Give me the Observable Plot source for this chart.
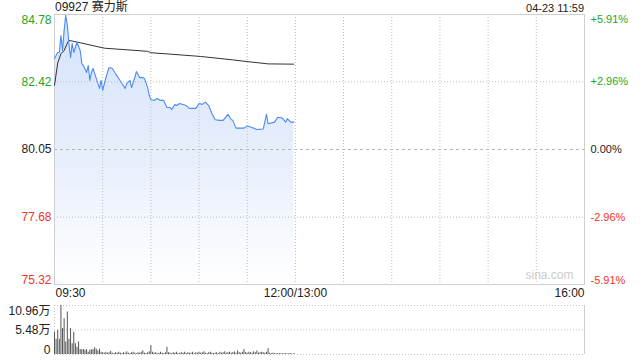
<!DOCTYPE html>
<html>
<head>
<meta charset="utf-8">
<script src="https://cdn.jsdelivr.net/npm/d3@7"></script>
<script src="https://cdn.jsdelivr.net/npm/@observablehq/plot@0.6"></script>
<style>
  html, body { margin: 0; padding: 0; background: #fff; }
  #wrap { position: relative; width: 640px; height: 360px; overflow: hidden;
    font-family: "Liberation Sans", Arial, "Noto Sans CJK SC", sans-serif; }
  #title { position: absolute; left: 55px; top: 0px; font-size: 12px; color: #222; line-height: 14px; }
  #stamp { position: absolute; right: 56px; top: 1px; font-size: 11px; color: #222; line-height: 14px; }
  #main { position: absolute; left: 0; top: 0; }
  #vol { position: absolute; left: 0; top: 300px; }
</style>
</head>
<body>
<div id="wrap">
  <div id="main"></div>
  <div id="vol"></div>
  <div id="title"></div>
  <div id="stamp"></div>
</div>
<script>
// ---------- data ----------
const stockTitle = "09927 赛力斯";
const stampText = "04-23 11:59";
const prevClose = 80.05;
const priceTicks = [75.32, 77.68, 80.05, 82.42, 84.78];
const pctLabels = ["-5.91%", "-2.96%", "0.00%", "+2.96%", "+5.91%"];
const xTickLabels = ["09:30", "12:00/13:00", "16:00"];
const xTickTimes = ["09:30", "12:00", "16:00"];
const gridTimes = ["10:00","10:30","11:00","11:30","12:00","13:30","14:00","14:30","15:00","15:30"];

const priceTimes = ["09:30","09:32","09:33","09:34","09:35","09:36","09:37","09:38","09:39","09:40",
  "09:41","09:42","09:44","09:46","09:47","09:48","09:50","09:51","09:52","09:53",
  "09:54","09:56","09:58","09:59","10:00","10:02","10:04","10:06","10:08","10:10",
  "10:12","10:14","10:15","10:17","10:18","10:20","10:21","10:23","10:25","10:26",
  "10:28","10:29","10:30","10:32","10:34","10:36","10:38","10:40","10:42","10:43",
  "10:45","10:46","10:48","10:52","10:54","10:56","10:58","11:00","11:02","11:04",
  "11:06","11:08","11:10","11:13","11:15","11:18","11:20","11:21","11:23","11:26",
  "11:28","11:30","11:33","11:36","11:40","11:42","11:43","11:47","11:49","11:51",
  "11:52","11:54","11:55","11:57","11:59"];
const prices = [83.24,83.45,83.45,84.04,83.52,84.22,84.75,84.40,83.76,83.27,
  83.76,83.45,83.80,83.52,83.06,82.99,82.75,82.99,82.47,82.75,
  82.89,82.54,82.19,82.47,82.12,82.57,82.92,82.89,82.71,82.54,
  82.36,82.19,82.36,82.47,82.22,82.57,82.78,82.57,82.57,82.54,
  82.22,81.94,81.80,81.77,81.84,81.77,81.77,81.52,81.52,81.45,
  81.63,81.59,81.66,81.59,81.49,81.49,81.49,81.66,81.63,81.71,
  81.59,81.31,81.09,81.07,81.07,81.28,81.10,81.07,80.80,80.80,
  80.80,80.87,80.82,80.75,80.77,81.28,80.95,81.01,81.18,81.16,
  81.14,81.01,81.13,81.01,81.01];

const avgTimes = ["09:30","09:32","09:34","09:36","09:38","09:39","09:41","09:46","10:01","10:28",
  "10:30","10:40","11:01","11:21","11:30","11:43","11:59"];
const avgPrices = [82.30,83.08,83.40,83.52,83.78,83.87,83.85,83.79,83.60,83.49,
  83.44,83.40,83.31,83.19,83.13,83.05,83.04];

const volStart = "09:30";
const volumes = [5.0,3.4,5.4,3.4,10.96,5.8,8.0,2.8,9.5,3.4,
  5.8,2.4,5.0,2.4,1.6,2.8,1.1,1.1,1.1,0.9,
  1.1,0.5,1.0,1.0,1.1,1.5,1.2,0.8,1.2,0.5,
  0.4,0.3,0.5,0.3,0.4,0.7,0.3,0.2,0.4,0.3,
  0.5,0.3,0.2,0.4,0.3,0.6,0.3,0.2,0.4,0.5,
  0.3,0.2,0.4,0.3,0.5,0.8,0.3,0.2,0.4,0.6,
  2.0,0.5,0.3,0.4,0.2,0.3,0.5,0.3,0.2,0.4,
  1.6,0.4,0.3,0.2,0.4,0.3,0.5,0.2,0.3,0.4,
  0.3,0.5,0.2,0.4,0.3,0.3,0.5,0.2,0.4,0.3,
  0.5,0.3,0.4,0.6,0.3,0.2,0.4,0.5,0.3,0.2,
  0.3,0.4,0.2,0.5,0.3,0.4,0.6,0.3,0.4,0.5,
  0.3,0.4,0.6,0.3,0.8,0.4,0.3,0.5,1.1,0.4,
  0.3,0.5,0.4,0.3,0.6,0.4,0.8,0.3,0.4,0.5,
  0.4,0.3,0.5,1.3,0.3,0.2,0.3,0.2,0.2,0.2,
  0.2,0.2,0.1,0.2,0.2,0.1,0.2,0.2,0.1,0.2];
const volTicks = [0, 5.48, 10.96];
const volLabels = ["0", "5.48万", "10.96万"];

// ---------- helpers ----------
function sessionMinute(t) {
  const [h, m] = t.split(":").map(Number);
  const v = h * 60 + m;
  return v <= 720 ? v - 570 : v - 780 + 150;
}
const FONT = '"Liberation Sans", Arial, "Noto Sans CJK SC", sans-serif';
const GREEN = "#1fa51f", RED = "#ee3526", DARK = "#222";
const tickColor = v => v > prevClose ? GREEN : v < prevClose ? RED : DARK;

const priceData = priceTimes.map((t, i) => ({m: sessionMinute(t), p: prices[i]}));
const avgData = avgTimes.map((t, i) => ({m: sessionMinute(t), p: avgPrices[i]}));
const volData = volumes.map((v, i) => ({m: sessionMinute(volStart) + i, v}));
const tickRows = priceTicks.map((v, i) => ({v, pct: pctLabels[i]}));
const xTickRows = xTickTimes.map((t, i) => ({m: sessionMinute(t), label: xTickLabels[i]}));

document.getElementById("title").textContent = stockTitle;
document.getElementById("stamp").textContent = stampText;

const lo = priceTicks[0], hi = priceTicks[priceTicks.length - 1];
const xDomain = [0, 330];

// ---------- main price chart ----------
const main = Plot.plot({
  width: 640, height: 300,
  marginTop: 14, marginBottom: 16, marginLeft: 54, marginRight: 56,
  x: {domain: xDomain, axis: null},
  y: {domain: [lo, hi], axis: null},
  style: {fontFamily: FONT, fontSize: "11px", background: "transparent", overflow: "visible"},
  marks: [
    Plot.areaY(priceData, {x: "m", y1: lo, y2: "p", fill: "url(#pgrad)"}),
    Plot.ruleY(priceTicks.filter(v => v !== prevClose && v !== lo && v !== hi), {stroke: "#bdbdbd", strokeDasharray: "1,2"}),
    Plot.ruleY([prevClose], {stroke: "#b5b5b5", strokeDasharray: "3,3"}),
    Plot.ruleX(gridTimes.map(sessionMinute), {stroke: "#bdbdbd", strokeDasharray: "1,2"}),
    Plot.frame({stroke: "#cfcfcf"}),
    Plot.line(avgData, {x: "m", y: "p", stroke: "#333", strokeWidth: 1}),
    Plot.line(priceData, {x: "m", y: "p", stroke: "#4d8cf2", strokeWidth: 1.1}),
    // left price labels
    Plot.text(tickRows.filter(d => d.v === hi), {y: "v", text: d => d.v.toFixed(2), frameAnchor: "left", textAnchor: "end", lineAnchor: "top", dx: -3, dy: 1, fill: d => tickColor(d.v), fontSize: 12}),
    Plot.text(tickRows.filter(d => d.v !== hi && d.v !== lo), {y: "v", text: d => d.v.toFixed(2), frameAnchor: "left", textAnchor: "end", lineAnchor: "middle", dx: -3, fill: d => tickColor(d.v), fontSize: 12}),
    Plot.text(tickRows.filter(d => d.v === lo), {y: "v", text: d => d.v.toFixed(2), frameAnchor: "left", textAnchor: "end", lineAnchor: "bottom", dx: -3, dy: -1, fill: d => tickColor(d.v), fontSize: 12}),
    // right pct labels
    Plot.text(tickRows.filter(d => d.v === hi), {y: "v", text: "pct", frameAnchor: "right", textAnchor: "start", lineAnchor: "top", dx: 6, dy: 1, fill: d => tickColor(d.v), fontSize: 11}),
    Plot.text(tickRows.filter(d => d.v !== hi && d.v !== lo), {y: "v", text: "pct", frameAnchor: "right", textAnchor: "start", lineAnchor: "middle", dx: 6, fill: d => tickColor(d.v), fontSize: 11}),
    Plot.text(tickRows.filter(d => d.v === lo), {y: "v", text: "pct", frameAnchor: "right", textAnchor: "start", lineAnchor: "bottom", dx: 6, dy: -1, fill: d => tickColor(d.v), fontSize: 11}),
    // x labels
    Plot.text([xTickRows[0]], {x: "m", text: "label", frameAnchor: "bottom", textAnchor: "start", dy: 12, dx: 1, fill: DARK, fontSize: 12}),
    Plot.text([xTickRows[1]], {x: "m", text: "label", frameAnchor: "bottom", textAnchor: "middle", dy: 12, fill: DARK, fontSize: 12}),
    Plot.text([xTickRows[2]], {x: "m", text: "label", frameAnchor: "bottom", textAnchor: "end", dy: 12, fill: DARK, fontSize: 12}),
    // watermark
    Plot.text(["sina.com"], {frameAnchor: "bottom-right", textAnchor: "end", dx: -11, dy: -6, fill: "#cccccc", fontSize: 12})
  ]
});
const defs = d3.select(main).insert("defs", ":first-child");
const grad = defs.append("linearGradient").attr("id", "pgrad")
  .attr("gradientUnits", "userSpaceOnUse").attr("x1", 0).attr("x2", 0).attr("y1", 14).attr("y2", 284);
grad.append("stop").attr("offset", "0%").attr("stop-color", "#d5e3fa");
grad.append("stop").attr("offset", "55%").attr("stop-color", "#e8effc");
grad.append("stop").attr("offset", "100%").attr("stop-color", "#ffffff");
document.getElementById("main").appendChild(main);

// ---------- volume chart ----------
const volRows = volTicks.map((v, i) => ({v, label: volLabels[i]}));
const vol = Plot.plot({
  width: 640, height: 60,
  marginTop: 5, marginBottom: 6, marginLeft: 54, marginRight: 56,
  x: {domain: xDomain, axis: null},
  y: {domain: [0, volTicks[2]], axis: null},
  style: {fontFamily: FONT, fontSize: "11px", background: "transparent", overflow: "visible"},
  marks: [
    Plot.ruleY(volTicks, {stroke: "#c4c4c4", strokeDasharray: "1,2"}),
    Plot.ruleX([0], {stroke: "#c4c4c4", strokeDasharray: "1,2"}),
    Plot.ruleX([xDomain[1]], {stroke: "#cfcfcf"}),
    Plot.ruleX(volData, {x: "m", y1: 0, y2: "v", stroke: "#555", strokeWidth: 1}),
    Plot.text(volRows.filter(d => d.v === volTicks[2]), {y: "v", text: "label", frameAnchor: "left", textAnchor: "end", lineAnchor: "top", dx: -4, dy: 1, fill: DARK, fontSize: 12}),
    Plot.text(volRows.filter(d => d.v === volTicks[1]), {y: "v", text: "label", frameAnchor: "left", textAnchor: "end", lineAnchor: "middle", dx: -4, fill: DARK, fontSize: 12}),
    Plot.text(volRows.filter(d => d.v === 0), {y: "v", text: "label", frameAnchor: "left", textAnchor: "end", lineAnchor: "bottom", dx: -4, dy: -1, fill: DARK, fontSize: 12})
  ]
});
document.getElementById("vol").appendChild(vol);
</script>
</body>
</html>
